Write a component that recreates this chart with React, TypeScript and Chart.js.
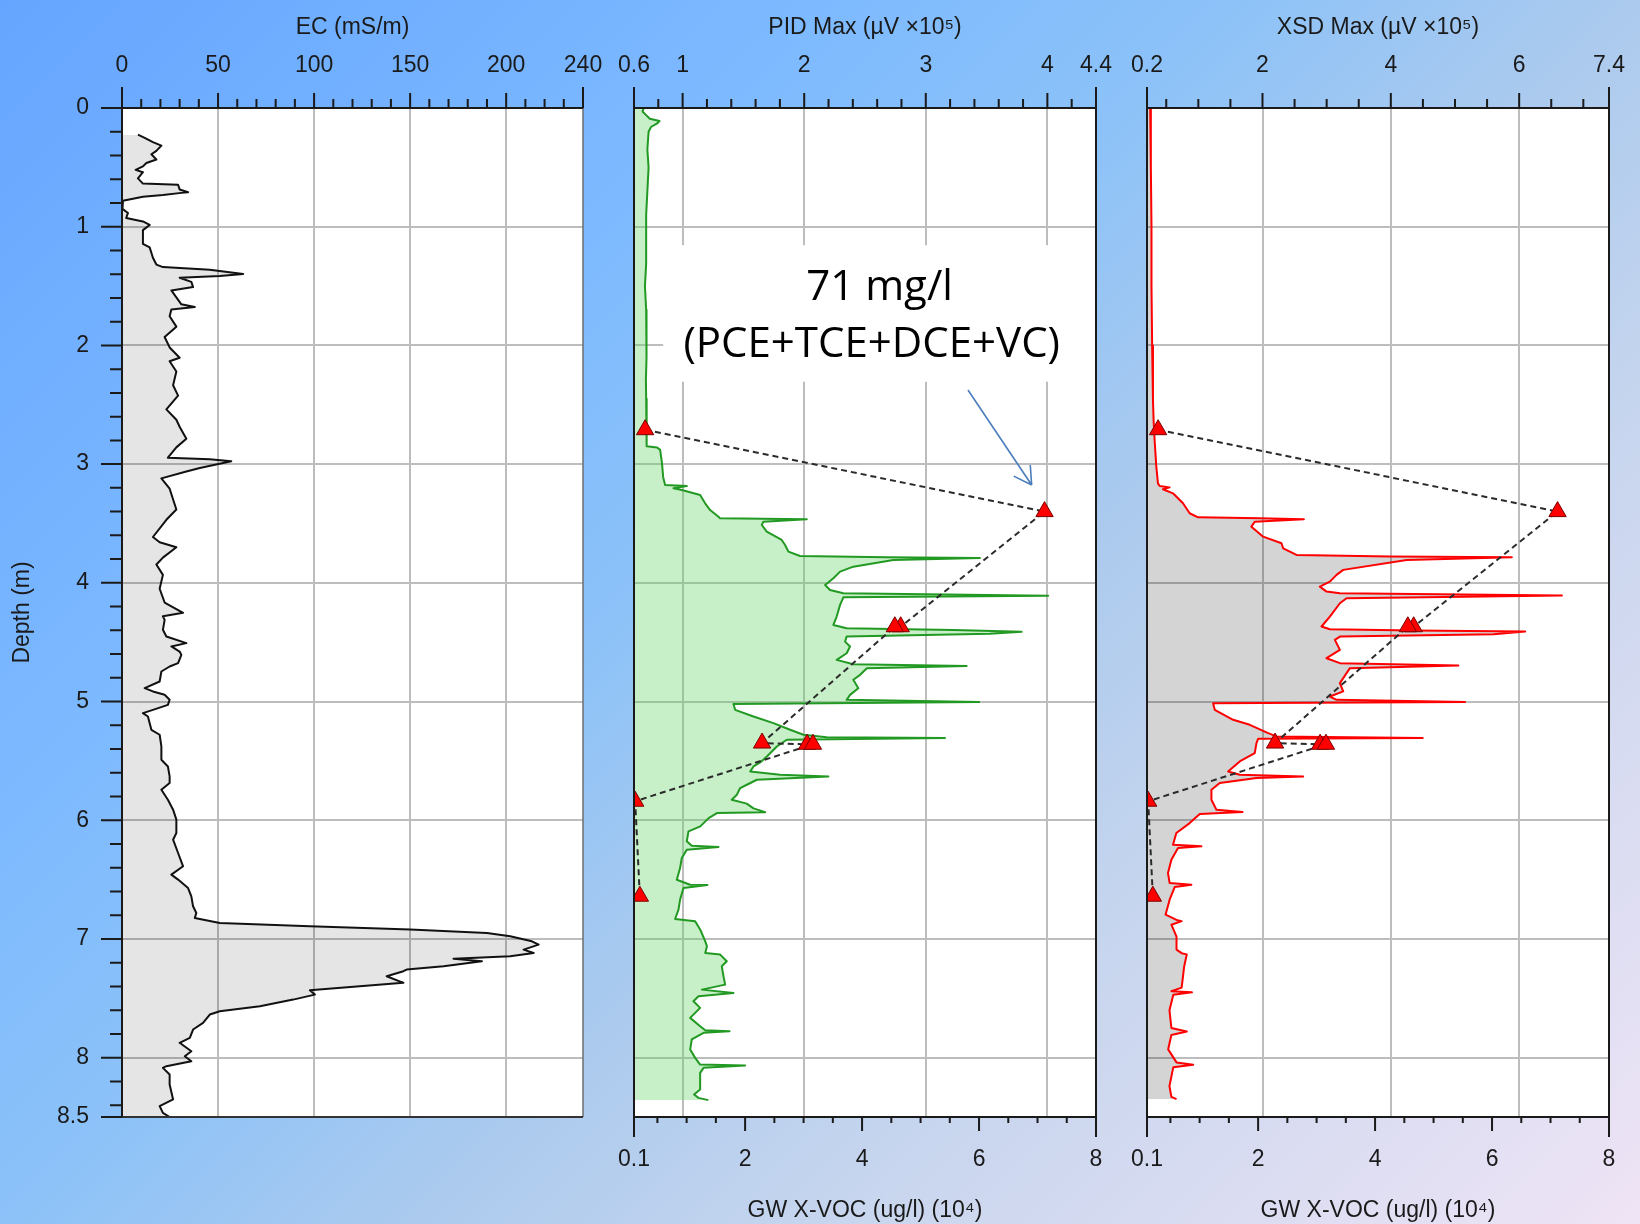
import React, { useEffect, useRef } from 'react';
import { Chart, registerables } from 'chart.js';

Chart.register(...registerables);

// ---------------- data ----------------
const EC_DEPTH = [
  0.225, 0.251, 0.288, 0.317, 0.361, 0.39, 0.434, 0.463, 0.492, 0.521, 0.541, 0.593, 0.637, 0.646, 0.686, 0.71,
  0.715, 0.733, 0.747, 0.782, 0.797, 0.849, 0.884, 0.927, 0.956, 0.985, 1.029, 1.145, 1.174, 1.261, 1.319, 1.34,
  1.363, 1.398, 1.415, 1.43, 1.465, 1.508, 1.537, 1.595, 1.654, 1.677, 1.697, 1.755, 1.842, 1.929, 2.017, 2.104,
  2.133, 2.22, 2.336, 2.423, 2.539, 2.626, 2.685, 2.786, 2.859, 2.946, 2.96, 2.975, 3.033, 3.062, 3.12, 3.207,
  3.382, 3.469, 3.614, 3.658, 3.701, 3.788, 3.846, 3.933, 4.05, 4.166, 4.253, 4.282, 4.312, 4.396, 4.452, 4.508,
  4.536, 4.579, 4.607, 4.677, 4.705, 4.747, 4.831, 4.887, 4.915, 4.943, 4.985, 5.028, 5.07, 5.098, 5.126, 5.238,
  5.28, 5.378, 5.49, 5.547, 5.631, 5.687, 5.743, 5.827, 5.911, 5.995, 6.108, 6.164, 6.276, 6.388, 6.458, 6.5,
  6.571, 6.641, 6.725, 6.781, 6.823, 6.865, 6.893, 6.921, 6.949, 6.978, 7.02, 7.048, 7.09, 7.118, 7.146, 7.166,
  7.188, 7.23, 7.258, 7.272, 7.314, 7.37, 7.432, 7.469, 7.511, 7.567, 7.609, 7.637, 7.707, 7.763, 7.833, 7.875,
  7.946, 7.988, 8.03, 8.072, 8.086, 8.142, 8.226, 8.352, 8.408, 8.465, 8.5,
];
const EC_VALUE = [
  8.3, 11.8, 16.1, 20.5, 17.9, 15.3, 17.9, 12.7, 10.9, 7.1, 10.9, 8.3, 10.9, 29.2, 30.0, 34.4,
  30.9, 21.3, 10.9, 0.5, 0.0, 0.5, 3.1, 2.2, 10.9, 14.4, 10.9, 10.9, 14.4, 16.1, 17.9, 21.3,
  45.7, 63.1, 50.9, 30.0, 36.1, 37.0, 25.7, 28.3, 30.9, 37.9, 25.7, 24.8, 28.3, 22.2, 24.8, 30.0,
  24.8, 28.3, 26.6, 29.2, 23.1, 28.3, 30.0, 33.5, 28.3, 23.9, 45.7, 56.9, 40.5, 33.5, 20.5, 24.8,
  28.3, 23.1, 16.1, 19.6, 28.3, 21.3, 17.9, 21.3, 19.6, 22.2, 31.8, 21.3, 22.2, 21.3, 23.1, 33.5,
  25.7, 30.0, 30.9, 29.2, 24.8, 20.5, 19.6, 11.8, 16.1, 22.2, 24.8, 23.9, 16.1, 10.9, 13.5, 15.3,
  19.6, 20.5, 20.5, 23.9, 24.8, 24.8, 20.5, 23.9, 26.6, 28.3, 28.3, 26.6, 29.2, 31.8, 25.7, 29.2,
  34.4, 36.1, 37.0, 38.7, 37.9, 50.9, 97.8, 150.0, 190.0, 202.1, 213.4, 216.9, 209.1, 214.3, 202.1, 172.6,
  187.4, 167.4, 148.2, 146.5, 137.8, 146.5, 97.8, 100.4, 89.1, 71.8, 50.9, 45.7, 42.2, 37.0, 35.3, 30.0,
  36.1, 32.7, 36.1, 23.1, 21.3, 24.8, 24.8, 26.6, 19.6, 21.3, 24.8,
];

const PID_DEPTH = [
  0.0, 0.03, 0.06, 0.09, 0.11, 0.13, 0.16, 0.2, 0.35, 0.5, 0.7, 0.9, 1.1, 1.31, 1.5, 1.7,
  1.955, 2.1, 2.29, 2.45, 2.56, 2.71, 2.85, 2.86, 2.88, 2.99, 3.11, 3.176, 3.185, 3.204, 3.218, 3.26,
  3.33, 3.387, 3.443, 3.457, 3.465, 3.485, 3.513, 3.569, 3.639, 3.681, 3.737, 3.774, 3.785, 3.791, 3.807, 3.864,
  3.906, 3.962, 4.018, 4.06, 4.088, 4.108, 4.122, 4.186, 4.284, 4.355, 4.383, 4.397, 4.413, 4.43, 4.453, 4.495,
  4.537, 4.593, 4.649, 4.686, 4.7, 4.719, 4.775, 4.817, 4.888, 4.944, 4.986, 5.005, 5.02, 5.07, 5.126, 5.182,
  5.238, 5.28, 5.3, 5.308, 5.322, 5.379, 5.463, 5.513, 5.547, 5.589, 5.617, 5.631, 5.659, 5.701, 5.729, 5.785,
  5.828, 5.86, 5.9, 5.932, 5.94, 5.982, 6.052, 6.094, 6.178, 6.215, 6.226, 6.248, 6.318, 6.403, 6.501, 6.543,
  6.546, 6.571, 6.669, 6.753, 6.832, 6.851, 6.922, 7.02, 7.062, 7.118, 7.132, 7.188, 7.23, 7.315, 7.385, 7.427,
  7.455, 7.483, 7.525, 7.581, 7.665, 7.735, 7.769, 7.777, 7.791, 7.847, 7.932, 8.002, 8.058, 8.066, 8.086, 8.128,
  8.268, 8.311, 8.339, 8.358,
];
const PID_VALUE = [
  0.68, 0.67, 0.7, 0.73, 0.81, 0.79, 0.74, 0.72, 0.71, 0.72, 0.71, 0.7, 0.7, 0.7, 0.69, 0.7,
  0.706, 0.7, 0.698, 0.7, 0.706, 0.7, 0.706, 0.79, 0.815, 0.83, 0.84, 0.856, 1.034, 0.925, 0.993, 1.144,
  1.185, 1.226, 1.295, 1.308, 2.021, 1.664, 1.651, 1.692, 1.815, 1.843, 1.87, 1.966, 2.678, 3.445, 2.733, 2.404,
  2.295, 2.24, 2.172, 2.212, 2.322, 4.007, 2.322, 2.295, 2.267, 2.24, 2.349, 3.226, 3.788, 3.527, 2.349, 2.336,
  2.377, 2.349, 2.267, 2.404, 3.336, 2.515, 2.46, 2.404, 2.445, 2.377, 2.349, 3.439, 1.418, 1.432, 1.583, 1.747,
  1.884, 1.994, 2.185, 3.158, 1.857, 1.775, 1.693, 1.638, 1.583, 1.556, 1.802, 2.199, 1.61, 1.528, 1.473, 1.446,
  1.404, 1.527, 1.583, 1.679, 1.282, 1.214, 1.145, 1.048, 1.034, 1.075, 1.295, 1.034, 0.993, 0.979, 0.952, 1.062,
  1.204, 1.007, 0.979, 0.966, 0.938, 1.103, 1.145, 1.186, 1.2, 1.186, 1.309, 1.363, 1.322, 1.336, 1.35, 1.158,
  1.418, 1.13, 1.089, 1.144, 1.062, 1.144, 1.186, 1.386, 1.172, 1.075, 1.062, 1.103, 1.144, 1.514, 1.172, 1.144,
  1.144, 1.094, 1.13, 1.212,
];

const XSD_DEPTH = [
  0.0, 0.5, 1.0, 1.5, 2.0, 2.46, 2.63, 2.8, 3.02, 3.162, 3.184, 3.196, 3.212, 3.246, 3.33, 3.414,
  3.448, 3.456, 3.465, 3.485, 3.527, 3.611, 3.667, 3.709, 3.765, 3.779, 3.785, 3.807, 3.891, 3.933, 3.99, 4.032,
  4.074, 4.088, 4.107, 4.13, 4.172, 4.284, 4.368, 4.391, 4.402, 4.41, 4.433, 4.453, 4.481, 4.565, 4.635, 4.677,
  4.697, 4.719, 4.845, 4.915, 4.958, 4.986, 5.003, 5.014, 5.07, 5.154, 5.196, 5.266, 5.294, 5.308, 5.314, 5.35,
  5.435, 5.505, 5.589, 5.617, 5.631, 5.645, 5.687, 5.743, 5.827, 5.912, 5.931, 5.948, 6.024, 6.108, 6.206, 6.22,
  6.234, 6.332, 6.445, 6.529, 6.543, 6.563, 6.669, 6.795, 6.84, 6.85, 6.88, 6.98, 7.09, 7.12, 7.13, 7.23,
  7.41, 7.44, 7.45, 7.47, 7.6, 7.75, 7.78, 7.81, 7.93, 8.04, 8.06, 8.08, 8.24, 8.33, 8.35,
];
const XSD_VALUE = [
  0.25, 0.26, 0.27, 0.27, 0.28, 0.293, 0.303, 0.319, 0.345, 0.371, 0.397, 0.553, 0.449, 0.605, 0.761, 0.865,
  0.995, 1.958, 2.645, 1.879, 1.827, 2.01, 2.296, 2.322, 2.53, 3.987, 5.886, 4.247, 3.258, 3.154, 3.05, 2.894,
  2.998, 3.206, 6.667, 3.31, 3.206, 3.05, 2.92, 3.05, 4.351, 6.094, 5.6, 3.206, 3.128, 3.206, 2.998, 3.206,
  5.053, 3.362, 3.206, 3.258, 3.05, 3.154, 5.157, 1.23, 1.256, 1.542, 1.802, 2.088, 2.218, 4.497, 1.932, 1.906,
  1.879, 1.645, 1.464, 1.645, 2.634, 1.906, 1.334, 1.204, 1.204, 1.282, 1.688, 1.022, 0.865, 0.657, 0.605, 1.048,
  0.683, 0.58, 0.527, 0.553, 0.892, 0.631, 0.553, 0.49, 0.66, 0.74, 0.58, 0.66, 0.66, 0.74, 0.82, 0.78,
  0.74, 0.58, 0.9, 0.61, 0.55, 0.58, 0.82, 0.58, 0.53, 0.66, 0.92, 0.61, 0.55, 0.58, 0.66,
];

const SAMPLE_DEPTH = [2.71, 3.4, 4.37, 4.37, 5.35, 5.36, 5.36, 5.84, 6.64];
const SAMPLE_GW = [0.29, 7.12, 4.66, 4.56, 2.29, 3.06, 3.16, 0.12, 0.2];

const DEPTH_LABELS = [0, 1, 2, 3, 4, 5, 6, 7, 8, 8.5];
const EC_LABELS = [0, 50, 100, 150, 200, 240];
const PID_LABELS = [0.6, 1, 2, 3, 4, 4.4];
const XSD_LABELS = [0.2, 2, 4, 6, 7.4];
const GW_LABELS = [0.1, 2, 4, 6, 8];
const DEPTH_STEP = 0.2;
const EC_STEP = 10;
const PID_STEP = 0.2;
const XSD_STEP = 0.5;
const GW_STEP = 0.5;

const NOTE_LINES = ['71 mg/l', '(PCE+TCE+DCE+VC)'];

// ---------------- layout & style ----------------
const W = 1640;
const H = 1224;
const TOP = 108;
const BOTTOM = 1117;
const PANEL_EC = [122, 583];
const PANEL_PID = [634, 1096];
const PANEL_XSD = [1147, 1609];

const FONT = "'Liberation Sans', Arial, Helvetica, sans-serif";
const TEXT = '#1a1a1a';
const AXIS = '#1a1a1a';
const GRID = '#bdbdbd';
const NONE = 'rgba(0,0,0,0)';
const TICK_FONT = { family: FONT, size: 23 };
const TITLE_FONT = { family: FONT, size: 23 };
const TOP_LEN = { end: 21, major: 15, minor: 9 };
const BOT_LEN = { end: 20, major: 14, minor: 6 };
const LEFT_LEN = { end: 21, major: 21, minor: 12 };
const BG =
  'linear-gradient(135deg, #66a5ff 0%, #7cb9ff 28%, #8cc2f8 43%, #abcaee 57%, #c6d5ee 71%, #efe4f5 100%)';

// ---------------- helpers ----------------
const near = (a: number, b: number) => Math.abs(a - b) < 1e-6;
function buildTicks(labels: number[], step: number) {
  const min = labels[0];
  const max = labels[labels.length - 1];
  const vals = [...labels];
  for (let k = Math.ceil(min / step - 1e-9); k * step <= max + 1e-9; k++) {
    const v = Math.round(k * step * 1e6) / 1e6;
    if (v > min + 1e-9 && v < max - 1e-9 && !vals.some((x) => near(x, v))) vals.push(v);
  }
  return vals.sort((a, b) => a - b);
}
const labelFor = (v: number, labels: number[]) => (labels.some((l) => near(l, v)) ? String(v) : '');
const isInner = (v: any, labels: number[]) => v != null && labels.slice(1, -1).some((l) => near(l, v));
const kindOf = (v: number, labels: number[]) =>
  near(v, labels[0]) || near(v, labels[labels.length - 1])
    ? 'end'
    : labels.some((l) => near(l, v))
    ? 'major'
    : 'minor';
const pts = (d: number[], v: number[]) => d.map((y, i) => ({ x: v[i], y }));

function xAxis(position: 'top' | 'bottom', labels: number[], step: number, title: string, withGrid: boolean) {
  const ticks = buildTicks(labels, step);
  return {
    type: 'linear',
    axis: 'x',
    position,
    min: labels[0],
    max: labels[labels.length - 1],
    afterBuildTicks: (s: any) => {
      s.ticks = ticks.map((value) => ({ value }));
    },
    afterFit: (s: any) => {
      s.height = position === 'top' ? TOP : H - BOTTOM;
      s.paddingLeft = 0;
      s.paddingRight = 0;
    },
    ticks: {
      autoSkip: false,
      maxRotation: 0,
      minRotation: 0,
      padding: 29,
      color: TEXT,
      font: TICK_FONT,
      callback: (v: number) => labelFor(v, labels),
    },
    grid: {
      display: withGrid,
      drawTicks: false,
      lineWidth: 2,
      color: (c: any) => (isInner(c.tick?.value, labels) ? GRID : NONE),
    },
    border: { display: false },
    title: {
      display: true,
      text: title,
      color: TEXT,
      font: TITLE_FONT,
      padding: position === 'top' ? { top: 14, bottom: 0 } : { top: 0, bottom: 0 },
    },
  };
}

function depthAxis(showLabels: boolean) {
  const ticks = buildTicks(DEPTH_LABELS, DEPTH_STEP);
  return {
    type: 'linear',
    axis: 'y',
    position: 'left',
    min: 0,
    max: 8.5,
    reverse: true,
    afterBuildTicks: (s: any) => {
      s.ticks = ticks.map((value) => ({ value }));
    },
    afterFit: (s: any) => {
      s.width = showLabels ? PANEL_EC[0] : 0;
      s.paddingTop = 0;
      s.paddingBottom = 0;
    },
    ticks: {
      display: showLabels,
      autoSkip: false,
      padding: 33,
      color: TEXT,
      font: TICK_FONT,
      callback: (v: number) => labelFor(v, DEPTH_LABELS),
    },
    grid: {
      drawTicks: false,
      lineWidth: 2,
      color: (c: any) => (isInner(c.tick?.value, DEPTH_LABELS) ? GRID : NONE),
    },
    border: { display: false },
    title: {
      display: showLabels,
      text: 'Depth (m)',
      color: TEXT,
      font: TITLE_FONT,
      padding: { top: 9, bottom: 0 },
    },
  };
}

function drawNote(chart: any, n: any) {
  const { ctx } = chart;
  const sx = chart.scales[n.xAxis];
  const sy = chart.scales[n.yAxis];
  const X = (v: number) => sx.getPixelForValue(v);
  const Y = (v: number) => sy.getPixelForValue(v);
  ctx.save();
  const x0 = X(n.box[0]);
  const x1 = X(n.box[1]);
  const y0 = Y(n.box[2]);
  const y1 = Y(n.box[3]);
  ctx.fillStyle = '#ffffff';
  ctx.fillRect(x0, y0, x1 - x0, y1 - y0);
  ctx.fillStyle = '#000000';
  ctx.font = n.font;
  ctx.textAlign = 'center';
  ctx.textBaseline = 'alphabetic';
  n.lines.forEach((line: string, i: number) => ctx.fillText(line, X(n.textX[i]), Y(n.textY[i])));
  const ax0 = X(n.arrow[0]);
  const ay0 = Y(n.arrow[1]);
  const ax1 = X(n.arrow[2]);
  const ay1 = Y(n.arrow[3]);
  ctx.strokeStyle = n.arrowColor;
  ctx.lineWidth = 1.6;
  ctx.beginPath();
  ctx.moveTo(ax0, ay0);
  ctx.lineTo(ax1, ay1);
  const ang = Math.atan2(ay0 - ay1, ax0 - ax1);
  for (const d of [-0.52, 0.52]) {
    ctx.moveTo(ax1, ay1);
    ctx.lineTo(ax1 + 20 * Math.cos(ang + d), ay1 + 20 * Math.sin(ang + d));
  }
  ctx.stroke();
  ctx.restore();
}

const framePlugin = {
  id: 'frame',
  beforeDraw(chart: any) {
    const { ctx, chartArea: a } = chart;
    ctx.save();
    ctx.fillStyle = '#ffffff';
    ctx.fillRect(a.left, a.top, a.right - a.left, a.bottom - a.top);
    ctx.restore();
  },
  beforeDatasetsDraw(chart: any, _args: any, opts: any) {
    if (opts.note) drawNote(chart, opts.note);
  },
  afterDatasetsDraw(chart: any, _args: any, opts: any) {
    const { ctx, chartArea: a } = chart;
    ctx.save();
    ctx.lineCap = 'butt';
    for (const e of opts.edges || []) {
      ctx.strokeStyle = e.color;
      ctx.lineWidth = e.width;
      ctx.beginPath();
      if (e.side === 'left') {
        ctx.moveTo(a.left, a.top);
        ctx.lineTo(a.left, a.bottom);
      } else if (e.side === 'right') {
        ctx.moveTo(a.right, a.top);
        ctx.lineTo(a.right, a.bottom);
      } else if (e.side === 'bottom') {
        ctx.moveTo(a.left, a.bottom);
        ctx.lineTo(a.right, a.bottom);
      }
      ctx.stroke();
    }
    for (const ax of opts.axes || []) {
      const s = chart.scales[ax.id];
      ctx.strokeStyle = AXIS;
      ctx.lineWidth = 2;
      ctx.beginPath();
      const edge = ax.side === 'top' ? a.top : ax.side === 'bottom' ? a.bottom : a.left;
      if (ax.side === 'left') {
        ctx.moveTo(edge, a.top);
        ctx.lineTo(edge, a.bottom);
      } else {
        ctx.moveTo(a.left, edge);
        ctx.lineTo(a.right, edge);
      }
      for (const t of s.ticks) {
        const len = ax.len[kindOf(t.value, ax.labels)];
        const p = s.getPixelForValue(t.value);
        if (ax.side === 'top') {
          ctx.moveTo(p, edge);
          ctx.lineTo(p, edge - len);
        } else if (ax.side === 'bottom') {
          ctx.moveTo(p, edge);
          ctx.lineTo(p, edge + len);
        } else {
          ctx.moveTo(edge, p);
          ctx.lineTo(edge - len, p);
        }
      }
      ctx.stroke();
    }
    ctx.restore();
  },
};

function baseOptions(panel: number[], depthLabels: boolean, hasBottom: boolean, scales: any, frame: any) {
  return {
    indexAxis: 'y',
    responsive: false,
    maintainAspectRatio: false,
    animation: false,
    devicePixelRatio: 1,
    events: [],
    layout: {
      padding: {
        left: depthLabels ? 0 : panel[0],
        right: W - panel[1],
        top: 0,
        bottom: hasBottom ? 0 : H - BOTTOM,
      },
    },
    plugins: {
      legend: { display: false },
      tooltip: { enabled: false },
      frame,
    },
    scales: { ...scales, y: depthAxis(depthLabels) },
  };
}

function sampleDataset() {
  return {
    label: 'GW X-VOC',
    data: pts(SAMPLE_DEPTH, SAMPLE_GW),
    xAxisID: 'xGW',
    yAxisID: 'y',
    borderColor: '#2b2b2b',
    borderWidth: 2,
    borderDash: [6, 4],
    pointStyle: 'triangle',
    pointRadius: 10,
    pointBackgroundColor: '#ff0000',
    pointBorderColor: '#7a0000',
    pointBorderWidth: 1,
    fill: false,
    tension: 0,
  };
}

function ecConfig(): any {
  return {
    type: 'line',
    data: {
      datasets: [
        {
          label: 'EC',
          data: pts(EC_DEPTH, EC_VALUE),
          xAxisID: 'xEC',
          yAxisID: 'y',
          borderColor: '#111111',
          borderWidth: 2,
          borderJoinStyle: 'round',
          pointRadius: 0,
          tension: 0,
          fill: { value: EC_LABELS[0] },
          backgroundColor: 'rgba(0,0,0,0.1)',
        },
      ],
    },
    options: baseOptions(
      PANEL_EC,
      true,
      false,
      { xEC: xAxis('top', EC_LABELS, EC_STEP, 'EC (mS/m)', true) },
      {
        edges: [
          { side: 'right', color: '#6e6e6e', width: 1.5 },
          { side: 'bottom', color: '#333333', width: 2 },
        ],
        axes: [
          { id: 'y', side: 'left', labels: DEPTH_LABELS, len: LEFT_LEN },
          { id: 'xEC', side: 'top', labels: EC_LABELS, len: TOP_LEN },
        ],
      }
    ),
    plugins: [framePlugin],
  };
}

function pidConfig(): any {
  return {
    type: 'line',
    data: {
      datasets: [
        sampleDataset(),
        {
          label: 'PID Max',
          data: pts(PID_DEPTH, PID_VALUE),
          xAxisID: 'xPID',
          yAxisID: 'y',
          borderColor: '#229922',
          borderWidth: 2,
          borderJoinStyle: 'round',
          pointRadius: 0,
          tension: 0,
          fill: { value: PID_LABELS[0] },
          backgroundColor: 'rgba(98,212,98,0.35)',
        },
      ],
    },
    options: baseOptions(
      PANEL_PID,
      false,
      true,
      {
        xPID: xAxis('top', PID_LABELS, PID_STEP, 'PID Max (µV ×10⁵)', true),
        xGW: xAxis('bottom', GW_LABELS, GW_STEP, 'GW X-VOC (ug/l) (10⁴)', false),
      },
      {
        edges: [
          { side: 'left', color: AXIS, width: 2 },
          { side: 'right', color: AXIS, width: 2 },
        ],
        axes: [
          { id: 'xPID', side: 'top', labels: PID_LABELS, len: TOP_LEN },
          { id: 'xGW', side: 'bottom', labels: GW_LABELS, len: BOT_LEN },
        ],
        note: {
          xAxis: 'xPID',
          yAxis: 'y',
          box: [0.84, 4.4, 1.156, 2.306],
          lines: NOTE_LINES,
          textX: [2.62, 2.555],
          textY: [1.619, 2.101],
          font: "42px 'Open Sans', 'Noto Sans', sans-serif",
          arrow: [3.347, 2.376, 3.871, 3.176],
          arrowColor: '#4a7ebb',
        },
      }
    ),
    plugins: [framePlugin],
  };
}

function xsdConfig(): any {
  return {
    type: 'line',
    data: {
      datasets: [
        sampleDataset(),
        {
          label: 'XSD Max',
          data: pts(XSD_DEPTH, XSD_VALUE),
          xAxisID: 'xXSD',
          yAxisID: 'y',
          borderColor: '#ff0000',
          borderWidth: 2,
          borderJoinStyle: 'round',
          pointRadius: 0,
          tension: 0,
          fill: { value: XSD_LABELS[0] },
          backgroundColor: 'rgba(0,0,0,0.17)',
        },
      ],
    },
    options: baseOptions(
      PANEL_XSD,
      false,
      true,
      {
        xXSD: xAxis('top', XSD_LABELS, XSD_STEP, 'XSD Max (µV ×10⁵)', true),
        xGW: xAxis('bottom', GW_LABELS, GW_STEP, 'GW X-VOC (ug/l) (10⁴)', false),
      },
      {
        edges: [
          { side: 'left', color: AXIS, width: 2 },
          { side: 'right', color: AXIS, width: 2 },
        ],
        axes: [
          { id: 'xXSD', side: 'top', labels: XSD_LABELS, len: TOP_LEN },
          { id: 'xGW', side: 'bottom', labels: GW_LABELS, len: BOT_LEN },
        ],
      }
    ),
    plugins: [framePlugin],
  };
}

export default function App() {
  const r1 = useRef<HTMLCanvasElement | null>(null);
  const r2 = useRef<HTMLCanvasElement | null>(null);
  const r3 = useRef<HTMLCanvasElement | null>(null);

  useEffect(() => {
    const charts = [
      new Chart(r1.current as any, ecConfig()),
      new Chart(r2.current as any, pidConfig()),
      new Chart(r3.current as any, xsdConfig()),
    ];
    return () => charts.forEach((c) => c.destroy());
  }, []);

  const cs: React.CSSProperties = { position: 'absolute', left: 0, top: 0, width: W, height: H };
  return (
    <div style={{ position: 'absolute', left: 0, top: 0, width: W, height: H, overflow: 'hidden', background: BG }}>
      <canvas ref={r1} width={W} height={H} style={cs} />
      <canvas ref={r2} width={W} height={H} style={cs} />
      <canvas ref={r3} width={W} height={H} style={cs} />
    </div>
  );
}
